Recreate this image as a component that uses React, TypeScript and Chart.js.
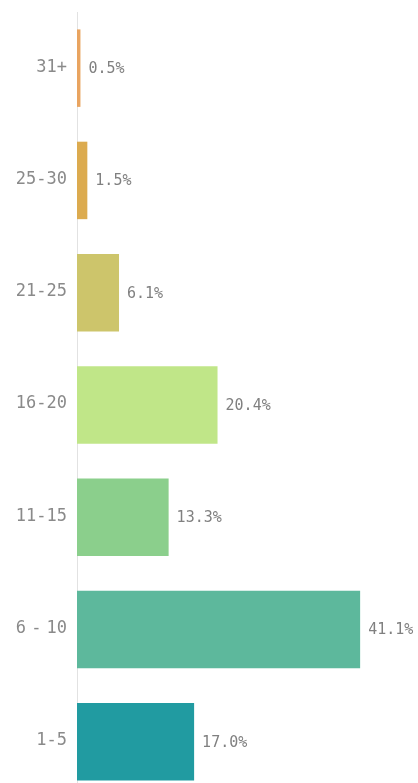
import React, { useEffect, useRef } from "react";
import { Chart, registerables } from "chart.js";

Chart.register(...registerables);

const THIN = "\u2009";
const categories = ["31+", "25-30", "21-25", "16-20", "11-15", "6" + THIN + "-" + THIN + "10", "1-5"];
const values = [0.5, 1.5, 6.1, 20.4, 13.3, 41.1, 17.0];
const barColors = ["#e9a460", "#dcab4f", "#cdc56b", "#c0e688", "#8bcf8c", "#5db89c", "#219ba1"];
const xMin = 0;
const xMax = 49.5;

const MONO = "'DejaVu Sans Mono', monospace";

const valueLabelPlugin = {
  id: "valueLabels",
  afterDatasetsDraw(chart: any) {
    const ctx = chart.ctx;
    const meta = chart.getDatasetMeta(0);
    ctx.save();
    ctx.font = "15px " + MONO;
    ctx.fillStyle = "#808080";
    ctx.textAlign = "left";
    ctx.textBaseline = "middle";
    meta.data.forEach((bar: any, i: number) => {
      const v = chart.data.datasets[0].data[i] as number;
      ctx.fillText(v.toFixed(1) + "%", bar.x + 8, bar.y + 1);
    });
    ctx.restore();
  },
};

// draws the y-axis category labels, with thin spaces rendered narrower than a monospace cell
const categoryLabelPlugin = {
  id: "categoryLabels",
  afterDraw(chart: any) {
    const ctx = chart.ctx;
    const scale = chart.scales.y;
    ctx.save();
    ctx.font = "17px " + MONO;
    ctx.fillStyle = "#8a8a8a";
    ctx.textAlign = "right";
    ctx.textBaseline = "middle";
    const gap = ctx.measureText("0").width / 2;
    const labels: string[] = chart.data.labels as string[];
    labels.forEach((label, i) => {
      const y = scale.getPixelForTick(i) - 1;
      let x = scale.right - 10;
      const parts = label.split(THIN);
      for (let p = parts.length - 1; p >= 0; p--) {
        ctx.fillText(parts[p], x, y);
        x -= ctx.measureText(parts[p]).width;
        if (p > 0) x -= gap;
      }
    });
    ctx.restore();
  },
};

export default function App() {
  const ref = useRef<HTMLCanvasElement>(null);

  useEffect(() => {
    if (!ref.current) return;
    const chart = new Chart(ref.current, {
      type: "bar",
      data: {
        labels: categories,
        datasets: [
          {
            data: values,
            backgroundColor: barColors,
            borderWidth: 0,
            categoryPercentage: 1,
            barPercentage: 0.69,
          },
        ],
      },
      options: {
        indexAxis: "y",
        responsive: false,
        animation: false,
        layout: { padding: { top: 12, bottom: 2, left: 0, right: 0 } },
        plugins: {
          legend: { display: false },
          tooltip: { enabled: false },
        },
        scales: {
          x: {
            display: false,
            min: xMin,
            max: xMax,
          },
          y: {
            grid: { display: false, drawTicks: false },
            border: { display: true, color: "#e2e2e2", width: 1 },
            ticks: { display: false },
            afterFit(scale: any) {
              scale.width = 77;
              scale.paddingTop = 0;
              scale.paddingBottom = 0;
            },
          },
        },
      },
      plugins: [valueLabelPlugin, categoryLabelPlugin],
    });
    return () => chart.destroy();
  }, []);

  return (
    <div
      style={{
        position: "fixed",
        top: 0,
        left: 0,
        width: 418,
        height: 783,
        overflow: "hidden",
        background: "#ffffff",
      }}
    >
      <canvas ref={ref} width={418} height={800} style={{ display: "block" }} />
    </div>
  );
}
